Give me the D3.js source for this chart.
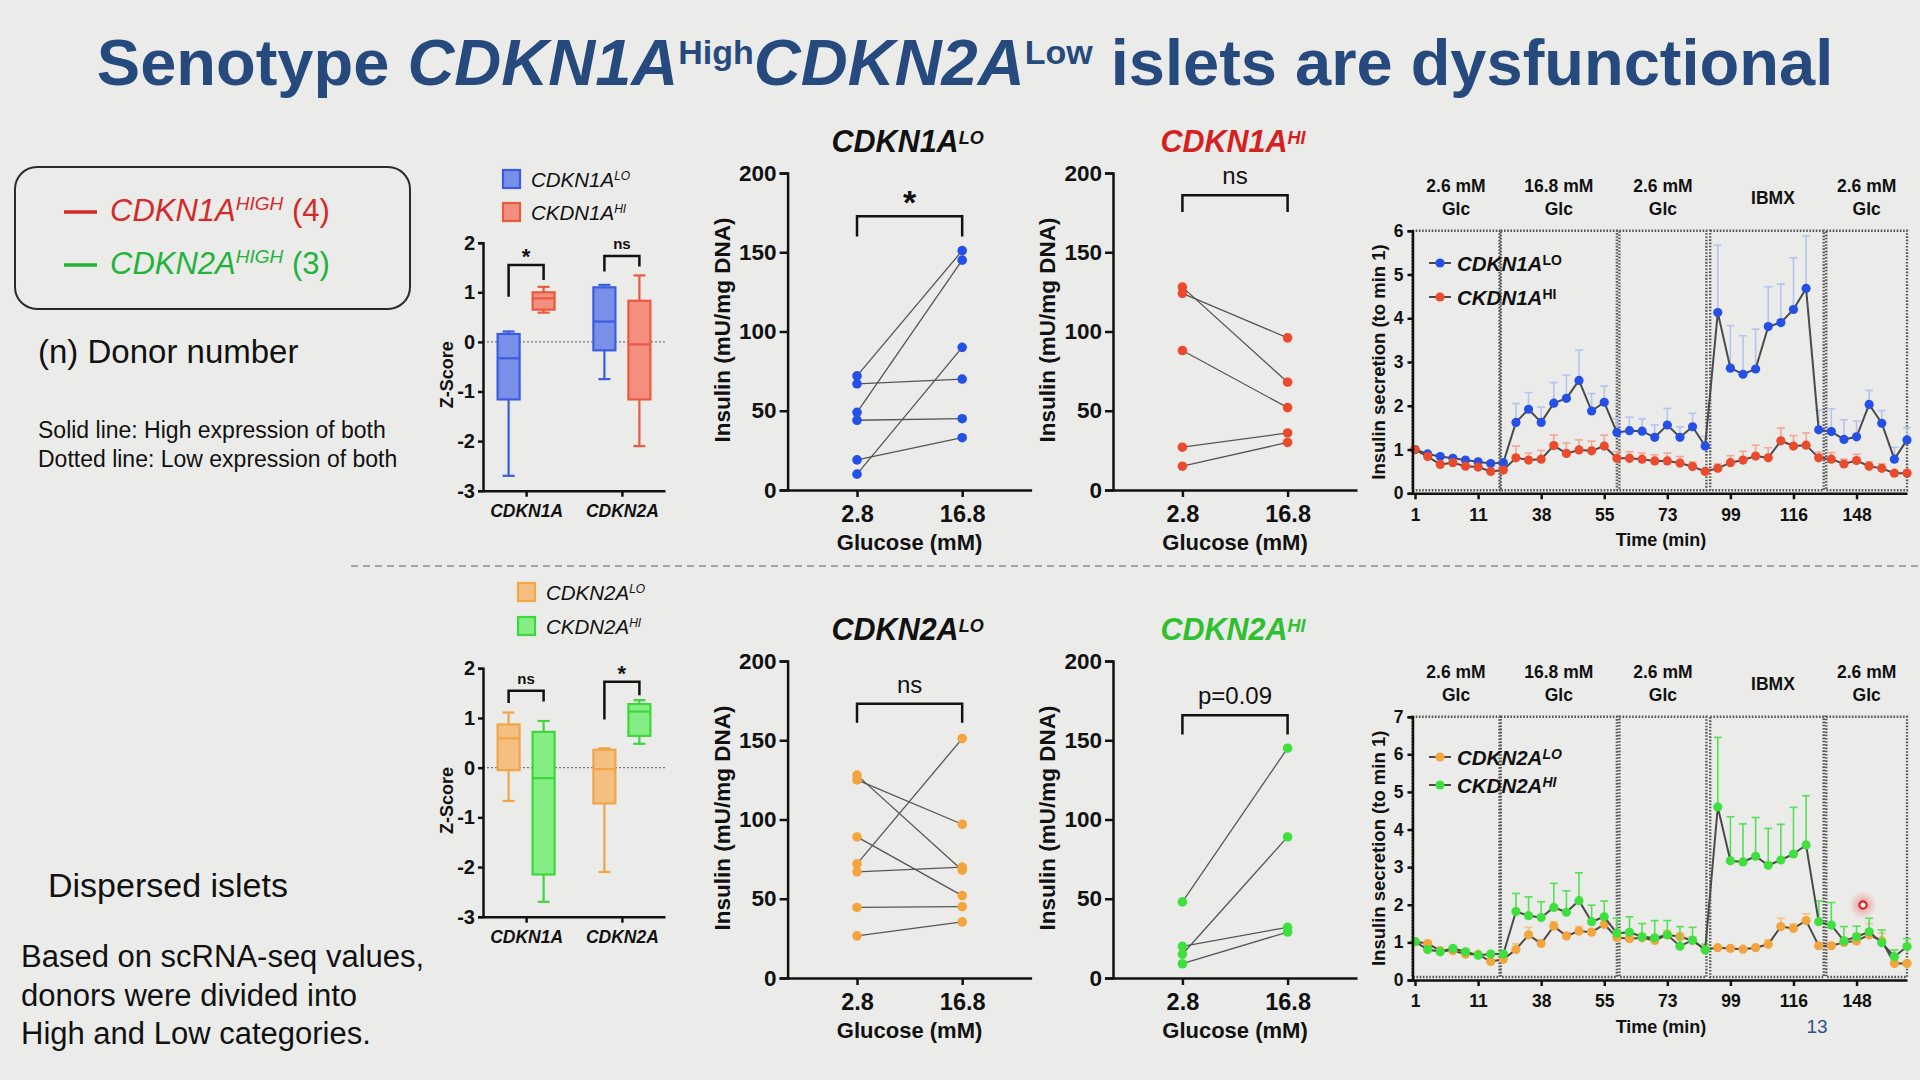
<!DOCTYPE html>
<html>
<head>
<meta charset="utf-8">
<title>Senotype CDKN1A High CDKN2A Low islets</title>
<script src="https://cdn.jsdelivr.net/npm/d3@7/dist/d3.min.js"></script>
<style>
  html, body { margin: 0; padding: 0; background: #ebecea; }
  svg { display: block; font-family: "Liberation Sans", Arial, Helvetica, sans-serif; }
</style>
</head>
<body>
<svg id="slide" width="1920" height="1080"></svg>
<script>
// ---------- data ----------
var boxGroups = ["CDKN1A", "CDKN2A"];
var zTicks = [-3, -2, -1, 0, 1, 2];
// per group: [min, q1, median, q3, max]
var zCdkn1aLo = [[-2.70, -1.16, -0.33, 0.16, 0.21], [-0.75, -0.17, 0.41, 1.10, 1.15]];
var zCdkn1aHi = [[0.59, 0.65, 0.88, 1.00, 1.11], [-2.10, -1.16, -0.05, 0.83, 1.34]];
var zCdkn2aLo = [[-0.67, -0.05, 0.59, 0.87, 1.11], [-2.10, -0.72, -0.03, 0.36, 0.39]];
var zCdkn2aHi = [[-2.70, -2.15, -0.21, 0.72, 0.94], [0.48, 0.64, 1.13, 1.28, 1.36]];

var glucose = ["2.8", "16.8"];
var insulinTicks = [0, 50, 100, 150, 200];
// one donor per pair: [2.8 mM, 16.8 mM]
var gsis1aLo = [[72, 151], [67, 70], [49, 145], [44, 45], [19, 33], [10, 90]];
var gsis1aHi = [[128, 68], [124, 96], [88, 52], [27, 36], [15, 30]];
var gsis2aLo = [[128, 68], [125, 97], [89, 52], [72, 151], [67, 70], [44.5, 45], [26.6, 35.4]];
var gsis2aHi = [[48, 145], [15, 89], [20, 32], [9, 29]];

var timeLabels = ["1", "11", "38", "55", "73", "99", "116", "148"]; // every 5th fraction
var phaseLabels = [["2.6 mM", "Glc"], ["16.8 mM", "Glc"], ["2.6 mM", "Glc"], ["IBMX"], ["2.6 mM", "Glc"]];
var phaseSpans = [[-0.2, 6.7], [6.8, 16.0], [16.2, 23.1], [23.4, 32.4], [32.6, 39.0]];

var perif1aLo = [1.0, 0.9, 0.84, 0.8, 0.76, 0.72, 0.68, 0.7, 1.62, 1.92, 1.62, 2.06, 2.17, 2.58, 1.88, 2.08,
  1.39, 1.43, 1.42, 1.28, 1.56, 1.28, 1.52, 1.08, 4.13, 2.86, 2.72, 2.84, 3.81, 3.9, 4.2, 4.68,
  1.45, 1.41, 1.23, 1.29, 2.03, 1.6, 0.78, 1.22];
var perif1aLoSem = [0, 0.04, 0.04, 0.04, 0.04, 0.04, 0.04, 0.05, 0.43, 0.38, 0.35, 0.47, 0.53, 0.69, 0.4, 0.37,
  0.32, 0.31, 0.28, 0.28, 0.38, 0.24, 0.31, 0.22, 1.54, 0.97, 0.88, 0.91, 0.91, 0.88, 1.18, 1.2,
  0.45, 0.52, 0.45, 0.36, 0.32, 0.29, 0.27, 0.28];
var perif1aHi = [1.0, 0.84, 0.66, 0.7, 0.62, 0.6, 0.5, 0.53, 0.81, 0.76, 0.78, 1.09, 0.91, 0.99, 0.97, 1.08,
  0.8, 0.8, 0.78, 0.74, 0.74, 0.69, 0.61, 0.5, 0.57, 0.7, 0.76, 0.85, 0.81, 1.2, 1.08, 1.1,
  0.81, 0.78, 0.67, 0.75, 0.62, 0.57, 0.46, 0.46];
var perif1aHiSem = [0, 0.05, 0.05, 0.06, 0.05, 0.05, 0.05, 0.06, 0.27, 0.16, 0.2, 0.24, 0.24, 0.23, 0.22, 0.25,
  0.15, 0.15, 0.14, 0.14, 0.18, 0.15, 0.11, 0.05, 0.1, 0.16, 0.2, 0.25, 0.23, 0.29, 0.24, 0.28,
  0.13, 0.15, 0.11, 0.14, 0.1, 0.1, 0.05, 0.06];
var perif2aLo = [1.02, 0.97, 0.78, 0.78, 0.69, 0.68, 0.49, 0.55, 0.81, 1.2, 0.97, 1.43, 1.17, 1.3, 1.27, 1.48,
  1.13, 1.1, 1.12, 1.05, 1.2, 1.15, 1.05, 0.81, 0.86, 0.84, 0.82, 0.86, 0.95, 1.42, 1.37, 1.58,
  0.91, 0.91, 1.0, 1.04, 1.2, 1.04, 0.44, 0.44];
var perif2aLoSem = [0, 0.04, 0.04, 0.04, 0.04, 0.04, 0.04, 0.04, 0.15, 0.2, 0.1, 0.12, 0.1, 0.12, 0.1, 0.12,
  0.1, 0.1, 0.1, 0.1, 0.12, 0.1, 0.1, 0.05, 0.05, 0.05, 0.05, 0.05, 0.12, 0.22, 0.12, 0.18,
  0.06, 0.08, 0.12, 0.2, 0.3, 0.2, 0.05, 0.05];
var perif2aHi = [1.02, 0.81, 0.75, 0.84, 0.75, 0.66, 0.69, 0.69, 1.82, 1.71, 1.66, 1.93, 1.8, 2.11, 1.55, 1.68,
  1.24, 1.27, 1.15, 1.12, 1.2, 0.9, 1.06, 0.8, 4.6, 3.17, 3.14, 3.29, 3.05, 3.19, 3.35, 3.59,
  1.55, 1.46, 1.04, 1.15, 1.28, 0.99, 0.62, 0.89];
var perif2aHiSem = [0, 0.04, 0.04, 0.04, 0.04, 0.04, 0.04, 0.04, 0.48, 0.5, 0.42, 0.64, 0.57, 0.74, 0.44, 0.42,
  0.4, 0.41, 0.35, 0.46, 0.38, 0.52, 0.34, 0.15, 1.85, 1.17, 1.01, 1.03, 0.98, 0.95, 1.24, 1.31,
  0.55, 0.6, 0.38, 0.28, 0.36, 0.34, 0.18, 0.21];

// ---------- colours ----------
var cBlue = {pt: "#2450e8", fill: "#7890ea", stroke: "#3a5ce0", err: "#b7c3ef"};
var cRed = {pt: "#ec4a2c", fill: "#f28f7e", stroke: "#ea5a40", err: "#f3a596"};
var cOrange = {pt: "#f3a43c", fill: "#f4bf80", stroke: "#f0a548", err: "#f6c27c"};
var cGreen = {pt: "#3ee03e", fill: "#84ee84", stroke: "#3dd63d", err: "#55e055"};
var INK = "#111";

var svg = d3.select("#slide");

svg.append("rect").attr("width", 1920).attr("height", 1080).attr("fill", "#ebecea");

// text with superscripts, parts = [{text, italic, sup, fill}]
function richText(sel, parts, size, supScale, supRise) {
  var lift = 0;
  parts.forEach(function (p) {
    var t = sel.append("tspan").text(p.text);
    if (p.italic) t.attr("font-style", "italic");
    if (p.fill) t.attr("fill", p.fill);
    if (p.sup) {
      var rise = Math.round(size * (supRise || 0.33));
      t.attr("font-size", Math.round(size * (supScale || 0.6))).attr("dy", lift - rise);
      lift = rise;
    } else if (lift) {
      t.attr("dy", lift);
      lift = 0;
    }
  });
  return sel;
}

function styleAxis(g, size, italic) {
  g.attr("font-family", null);
  g.select(".domain").attr("stroke", INK).attr("stroke-width", 2.5);
  g.selectAll(".tick line").attr("stroke", INK).attr("stroke-width", 2.5);
  g.selectAll(".tick text")
    .attr("fill", INK)
    .attr("font-size", size)
    .attr("font-weight", "bold")
    .attr("font-style", italic ? "italic" : null);
}

// ---------- title ----------
richText(svg.append("text")
    .attr("x", 965).attr("y", 85)
    .attr("text-anchor", "middle")
    .attr("font-size", 65).attr("font-weight", "bold")
    .attr("fill", "#264a7d"),
  [{text: "Senotype "}, {text: "CDKN1A", italic: true}, {text: "High", sup: true},
   {text: "CDKN2A", italic: true}, {text: "Low", sup: true}, {text: " islets are dysfunctional"}],
  65, 0.53, 0.33);

// ---------- left notes ----------
svg.append("rect")
  .attr("x", 15).attr("y", 167).attr("width", 395).attr("height", 142).attr("rx", 22)
  .attr("fill", "none").attr("stroke", "#2b2b2b").attr("stroke-width", 2);

var donorKey = [
  {gene: "CDKN1A", n: " (4)", color: "#d42a2a"},
  {gene: "CDKN2A", n: " (3)", color: "#22b33a"}
];
donorKey.forEach(function (d, i) {
  var yy = 212 + i * 53;
  svg.append("line").attr("x1", 64).attr("x2", 97).attr("y1", yy).attr("y2", yy)
    .attr("stroke", d.color).attr("stroke-width", 3.5);
  richText(svg.append("text").attr("x", 110).attr("y", yy + 9).attr("font-size", 31).attr("fill", d.color),
    [{text: d.gene, italic: true}, {text: "HIGH", italic: true, sup: true}, {text: d.n}], 31, 0.6, 0.35);
});

svg.append("text").attr("x", 38).attr("y", 363).attr("font-size", 33).attr("fill", INK)
  .text("(n) Donor number");
svg.append("text").attr("x", 38).attr("y", 438).attr("font-size", 23).attr("fill", INK)
  .text("Solid line: High expression of both");
svg.append("text").attr("x", 38).attr("y", 467).attr("font-size", 23).attr("fill", INK)
  .text("Dotted line: Low expression of both");

svg.append("text").attr("x", 48).attr("y", 897).attr("font-size", 34).attr("fill", INK)
  .text("Dispersed islets");
["Based on scRNA-seq values,", "donors were divided into", "High and Low categories."].forEach(function (s, i) {
  svg.append("text").attr("x", 21).attr("y", 967 + i * 38.6).attr("font-size", 31).attr("fill", INK).text(s);
});

svg.append("line").attr("x1", 351).attr("x2", 1920).attr("y1", 566).attr("y2", 566)
  .attr("stroke", "#8c8c8c").attr("stroke-width", 1.6).attr("stroke-dasharray", "7,5");

// ---------- box plots ----------
function drawBoxPanel(cfg) {
  var g = svg.append("g");
  var y = d3.scaleLinear().domain([-3, 2]).range([cfg.bottom, cfg.top]);
  var x = d3.scalePoint().domain(boxGroups).range([cfg.left, cfg.right]).padding(0.45);
  var side = d3.scalePoint().domain(["lo", "hi"]).range([-17.5, 17.5]);

  g.append("line")
    .attr("x1", cfg.left).attr("x2", cfg.right).attr("y1", y(0)).attr("y2", y(0))
    .attr("stroke", "#777").attr("stroke-width", 1.3).attr("stroke-dasharray", "2,2");

  [{key: "lo", stats: cfg.lo, c: cfg.loColor}, {key: "hi", stats: cfg.hi, c: cfg.hiColor}].forEach(function (s) {
    var bx = g.selectAll(null).data(s.stats).enter().append("g")
      .attr("transform", function (d, i) { return "translate(" + (x(boxGroups[i]) + side(s.key)) + ",0)"; })
      .attr("stroke", s.c.stroke).attr("stroke-width", 2.2);
    bx.append("line").attr("x1", 0).attr("x2", 0)
      .attr("y1", function (d) { return y(d[0]); }).attr("y2", function (d) { return y(d[4]); });
    bx.append("line").attr("x1", -6).attr("x2", 6)
      .attr("y1", function (d) { return y(d[0]); }).attr("y2", function (d) { return y(d[0]); });
    bx.append("line").attr("x1", -6).attr("x2", 6)
      .attr("y1", function (d) { return y(d[4]); }).attr("y2", function (d) { return y(d[4]); });
    bx.append("rect").attr("x", -11).attr("width", 22)
      .attr("y", function (d) { return y(d[3]); })
      .attr("height", function (d) { return y(d[1]) - y(d[3]); })
      .attr("fill", s.c.fill);
    bx.append("line").attr("x1", -11).attr("x2", 11)
      .attr("y1", function (d) { return y(d[2]); }).attr("y2", function (d) { return y(d[2]); });
  });

  // significance brackets
  cfg.brackets.forEach(function (b) {
    var xl = x(b.group) + side("lo"), xr = x(b.group) + side("hi");
    g.append("path")
      .attr("d", "M" + xl + "," + y(b.left) + "V" + y(b.top) + "H" + xr + "V" + y(b.right))
      .attr("fill", "none").attr("stroke", INK).attr("stroke-width", 2.5);
    var star = b.label === "*";
    g.append("text").attr("x", (xl + xr) / 2).attr("y", y(b.top) - (star ? 1 : 7))
      .attr("text-anchor", "middle").attr("font-weight", "bold")
      .attr("font-size", star ? 22 : 15).attr("fill", INK).text(b.label);
  });

  var ya = g.append("g").attr("transform", "translate(" + cfg.left + ",0)")
    .call(d3.axisLeft(y).tickValues(zTicks).tickSize(5).tickPadding(3).tickFormat(String));
  styleAxis(ya, 20, false);
  var xa = g.append("g").attr("transform", "translate(0," + cfg.bottom + ")")
    .call(d3.axisBottom(x).tickSize(6).tickPadding(8).tickSizeOuter(0));
  styleAxis(xa, 17.5, true);

  g.append("text")
    .attr("transform", "translate(" + (cfg.left - 30) + "," + ((cfg.top + cfg.bottom) / 2 + 8) + ") rotate(-90)")
    .attr("text-anchor", "middle").attr("font-weight", "bold").attr("font-size", 18).attr("fill", INK)
    .text("Z-Score");

  cfg.legend.forEach(function (l, i) {
    var c = i === 0 ? cfg.loColor : cfg.hiColor;
    g.append("rect").attr("x", cfg.legendX).attr("y", cfg.legendY[i] - 9).attr("width", 17).attr("height", 18)
      .attr("fill", c.fill).attr("stroke", c.stroke).attr("stroke-width", 2.2);
    richText(g.append("text").attr("x", cfg.legendX + 28).attr("y", cfg.legendY[i] + 8)
        .attr("font-size", 20.5).attr("fill", INK),
      [{text: l[0], italic: true}, {text: l[1], italic: true, sup: true}], 20.5, 0.6, 0.32);
  });
}

drawBoxPanel({
  top: 242.7, bottom: 490.7, left: 483, right: 665,
  lo: zCdkn1aLo, hi: zCdkn1aHi, loColor: cBlue, hiColor: cRed,
  brackets: [
    {group: "CDKN1A", left: 0.91, right: 1.25, top: 1.55, label: "*"},
    {group: "CDKN2A", left: 1.42, right: 1.52, top: 1.73, label: "ns"}
  ],
  legend: [["CDKN1A", "LO"], ["CKDN1A", "HI"]], legendX: 503, legendY: [179, 212]
});
drawBoxPanel({
  top: 668.3, bottom: 916.7, left: 483, right: 665,
  lo: zCdkn2aLo, hi: zCdkn2aHi, loColor: cOrange, hiColor: cGreen,
  brackets: [
    {group: "CDKN1A", left: 1.30, right: 1.33, top: 1.55, label: "ns"},
    {group: "CDKN2A", left: 0.97, right: 1.46, top: 1.73, label: "*"}
  ],
  legend: [["CDKN2A", "LO"], ["CKDN2A", "HI"]], legendX: 518, legendY: [592, 626]
});

// ---------- paired GSIS plots ----------
function drawPairPanel(cfg) {
  var g = svg.append("g");
  var x = d3.scalePoint().domain(glucose).range([cfg.left, cfg.left + 244]).padding(0.66);
  var y = d3.scaleLinear().domain([0, 200]).range([cfg.bottom, cfg.bottom - 317]);

  g.selectAll(null).data(cfg.pairs).enter().append("line")
    .attr("x1", x(glucose[0])).attr("x2", x(glucose[1]))
    .attr("y1", function (d) { return y(d[0]); }).attr("y2", function (d) { return y(d[1]); })
    .attr("stroke", "#555").attr("stroke-width", 1.3);

  var pts = [];
  cfg.pairs.forEach(function (d) {
    pts.push({g: glucose[0], v: d[0]});
    pts.push({g: glucose[1], v: d[1]});
  });
  g.selectAll(null).data(pts).enter().append("circle")
    .attr("cx", function (d) { return x(d.g); }).attr("cy", function (d) { return y(d.v); })
    .attr("r", 4.8).attr("fill", cfg.color);

  var b = cfg.bracket, xl = x(glucose[0]), xr = x(glucose[1]);
  g.append("path")
    .attr("d", "M" + xl + "," + y(b.legs) + "V" + y(b.top) + "H" + xr + "V" + y(b.legs))
    .attr("fill", "none").attr("stroke", INK).attr("stroke-width", 2.5);
  var star = b.label === "*";
  g.append("text").attr("x", (xl + xr) / 2).attr("y", y(b.top) - (star ? 2 : 11))
    .attr("text-anchor", "middle").attr("font-size", star ? 34 : 24)
    .attr("font-weight", star ? "bold" : null).attr("fill", INK).text(b.label);

  var ya = g.append("g").attr("transform", "translate(" + cfg.left + ",0)")
    .call(d3.axisLeft(y).tickValues(insulinTicks).tickSize(8).tickPadding(3));
  styleAxis(ya, 22.5, false);
  var xa = g.append("g").attr("transform", "translate(0," + cfg.bottom + ")")
    .call(d3.axisBottom(x).tickSize(7).tickPadding(8).tickSizeOuter(0));
  styleAxis(xa, 23.5, false);

  g.append("text").attr("x", x(glucose[0]) / 2 + x(glucose[1]) / 2).attr("y", cfg.bottom + 60)
    .attr("text-anchor", "middle").attr("font-weight", "bold").attr("font-size", 22).attr("fill", INK)
    .text("Glucose (mM)");
  g.append("text")
    .attr("transform", "translate(" + (cfg.left - 58) + "," + (cfg.bottom - 160) + ") rotate(-90)")
    .attr("text-anchor", "middle").attr("font-weight", "bold").attr("font-size", 22.5).attr("fill", INK)
    .text("Insulin (mU/mg DNA)");

  richText(g.append("text").attr("x", cfg.left + 120).attr("y", cfg.bottom - 338)
      .attr("text-anchor", "middle").attr("font-size", 30.5).attr("font-weight", "bold")
      .attr("font-style", "italic").attr("fill", cfg.titleColor),
    [{text: cfg.title[0]}, {text: cfg.title[1], sup: true}], 30.5, 0.58, 0.26);
}

drawPairPanel({left: 787.6, bottom: 490, pairs: gsis1aLo, color: cBlue.pt,
  title: ["CDKN1A", "LO"], titleColor: INK, bracket: {legs: 160, top: 172.7, label: "*"}});
drawPairPanel({left: 1113, bottom: 490, pairs: gsis1aHi, color: cRed.pt,
  title: ["CDKN1A", "HI"], titleColor: "#d61f1f", bracket: {legs: 175.4, top: 186, label: "ns"}});
drawPairPanel({left: 787.6, bottom: 978, pairs: gsis2aLo, color: cOrange.pt,
  title: ["CDKN2A", "LO"], titleColor: INK, bracket: {legs: 161, top: 173, label: "ns"}});
drawPairPanel({left: 1113, bottom: 978, pairs: gsis2aHi, color: cGreen.pt,
  title: ["CDKN2A", "HI"], titleColor: "#2fbf2f", bracket: {legs: 153.6, top: 165.7, label: "p=0.09"}});

// ---------- perifusion time courses ----------
function drawTimePanel(cfg) {
  var g = svg.append("g");
  var x = d3.scaleLinear().domain([-0.2, 39]).range([1412.5, 1907]);
  var y = d3.scaleLinear().domain([0, cfg.ymax]).range([cfg.bottom, cfg.top]);

  // phase boxes
  g.selectAll(null).data(phaseSpans).enter().append("rect")
    .attr("x", function (d) { return x(d[0]); })
    .attr("width", function (d) { return x(d[1]) - x(d[0]); })
    .attr("y", y(cfg.ymax)).attr("height", y(0) - y(cfg.ymax) - 3)
    .attr("fill", "none").attr("stroke", "#555").attr("stroke-width", 2.4)
    .attr("stroke-dasharray", "1.6,1.6");

  phaseLabels.forEach(function (lines, i) {
    var cx = x((phaseSpans[i][0] + phaseSpans[i][1]) / 2) + (lines.length === 1 ? 6 : 0);
    lines.forEach(function (s, j) {
      g.append("text").attr("x", cx)
        .attr("y", lines.length === 1 ? cfg.top - 27 : cfg.top - 39 + j * 23)
        .attr("text-anchor", "middle").attr("font-weight", "bold").attr("font-size", 17.5)
        .attr("fill", INK).text(s);
    });
  });

  cfg.series.forEach(function (s) {
    var pts = s.values.map(function (v, i) { return {i: i, v: v, e: s.sem[i]}; });
    var withErr = pts.filter(function (d) { return d.e > 0; });
    var eg = g.append("g").attr("stroke", s.c.err).attr("stroke-width", 1.6);
    eg.selectAll(null).data(withErr).enter().append("line")
      .attr("x1", function (d) { return x(d.i); }).attr("x2", function (d) { return x(d.i); })
      .attr("y1", function (d) { return y(d.v); }).attr("y2", function (d) { return y(d.v + d.e); });
    eg.selectAll(null).data(withErr).enter().append("line")
      .attr("x1", function (d) { return x(d.i) - 4; }).attr("x2", function (d) { return x(d.i) + 4; })
      .attr("y1", function (d) { return y(d.v + d.e); }).attr("y2", function (d) { return y(d.v + d.e); });
    g.append("path").datum(pts)
      .attr("d", d3.line().x(function (d) { return x(d.i); }).y(function (d) { return y(d.v); }))
      .attr("fill", "none").attr("stroke", "#4a4a4a").attr("stroke-width", 2);
    g.selectAll(null).data(pts).enter().append("circle")
      .attr("cx", function (d) { return x(d.i); }).attr("cy", function (d) { return y(d.v); })
      .attr("r", 4.6).attr("fill", s.c.pt);
  });

  var ya = g.append("g").attr("transform", "translate(" + x(-0.2) + ",0)")
    .call(d3.axisLeft(y).ticks(cfg.ymax).tickSize(5).tickPadding(4).tickFormat(d3.format("d")));
  styleAxis(ya, 17.5, false);
  var xa = g.append("g").attr("transform", "translate(0," + cfg.bottom + ")")
    .call(d3.axisBottom(x).tickValues(d3.range(0, 36, 5)).tickSize(6).tickPadding(9).tickSizeOuter(0)
      .tickFormat(function (d) { return timeLabels[d / 5]; }));
  styleAxis(xa, 17.5, false);

  g.append("text").attr("x", 1661).attr("y", cfg.bottom + 53)
    .attr("text-anchor", "middle").attr("font-weight", "bold").attr("font-size", 18).attr("fill", INK)
    .text("Time (min)");
  g.append("text")
    .attr("transform", "translate(" + (x(-0.2) - 28) + "," + ((cfg.top + cfg.bottom) / 2) + ") rotate(-90)")
    .attr("text-anchor", "middle").attr("font-weight", "bold").attr("font-size", 18.5).attr("fill", INK)
    .text("Insulin secretion (to min 1)");

  cfg.series.forEach(function (s, i) {
    var ly = cfg.legendY[i];
    g.append("line").attr("x1", 1429).attr("x2", 1451).attr("y1", ly).attr("y2", ly)
      .attr("stroke", "#4a4a4a").attr("stroke-width", 2);
    g.append("circle").attr("cx", 1440).attr("cy", ly).attr("r", 4.6).attr("fill", s.c.pt);
    richText(g.append("text").attr("x", 1457).attr("y", ly + 7.5).attr("font-size", 20.5)
        .attr("font-weight", "bold").attr("fill", INK),
      [{text: s.name[0], italic: true}, {text: s.name[1], sup: true, italic: cfg.supItalic}], 20.5, 0.66, 0.3);
  });
}

drawTimePanel({
  top: 230.7, bottom: 493.3, ymax: 6, legendY: [263, 297], supItalic: false,
  series: [
    {name: ["CDKN1A", "LO"], values: perif1aLo, sem: perif1aLoSem, c: cBlue},
    {name: ["CKDN1A", "HI"], values: perif1aHi, sem: perif1aHiSem, c: cRed}
  ]
});
drawTimePanel({
  top: 716.7, bottom: 980, ymax: 7, legendY: [757, 785], supItalic: true,
  series: [
    {name: ["CDKN2A", "LO"], values: perif2aLo, sem: perif2aLoSem, c: cOrange},
    {name: ["CKDN2A", "HI"], values: perif2aHi, sem: perif2aHiSem, c: cGreen}
  ]
});

// ---------- slide furniture ----------
svg.append("text").attr("x", 1817).attr("y", 1033).attr("text-anchor", "middle")
  .attr("font-size", 19).attr("fill", "#35508a").text("13");

var defs = svg.append("defs");
var glow = defs.append("radialGradient").attr("id", "cursorGlow");
glow.append("stop").attr("offset", "0%").attr("stop-color", "#f05050").attr("stop-opacity", 0.55);
glow.append("stop").attr("offset", "100%").attr("stop-color", "#f05050").attr("stop-opacity", 0);
svg.append("circle").attr("cx", 1863).attr("cy", 905).attr("r", 14).attr("fill", "url(#cursorGlow)");
svg.append("circle").attr("cx", 1863).attr("cy", 905).attr("r", 3.6)
  .attr("fill", "#fff").attr("stroke", "#e01c1c").attr("stroke-width", 2.2);
</script>
</body>
</html>
